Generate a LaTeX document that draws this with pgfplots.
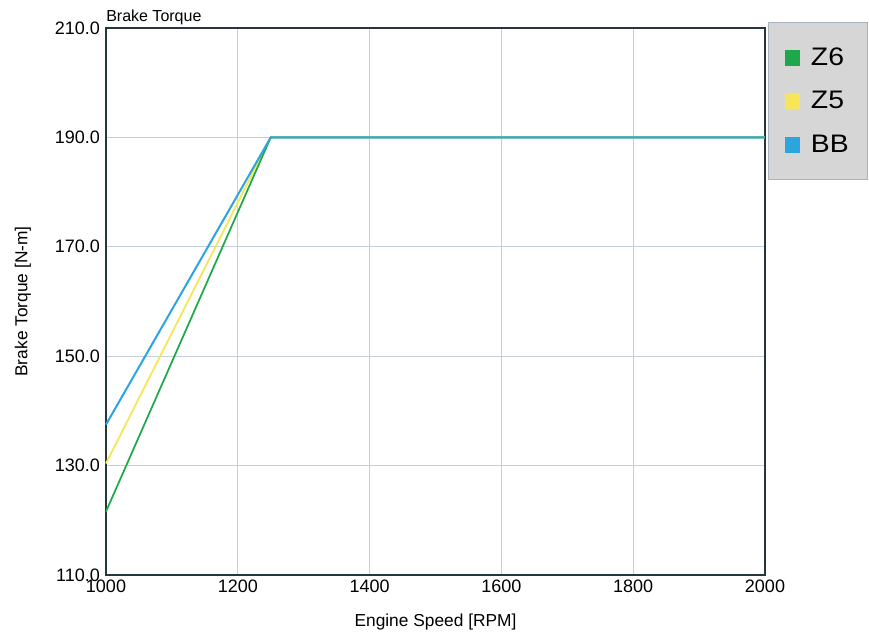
\documentclass[border=0pt]{standalone}
\usepackage{fontspec}
\setmainfont{Liberation Sans}
\newfontfamily\legfont{Liberation Sans}[FakeStretch=1.12]
\usepackage{pgfplots}
\pgfplotsset{compat=1.18}
\definecolor{zsix}{HTML}{1EA84A}
\definecolor{zfive}{HTML}{F5E65A}
\definecolor{bb}{HTML}{2CA4E0}
\definecolor{gridc}{HTML}{C3CFDA}
\definecolor{frame}{HTML}{24383C}
\definecolor{legbg}{HTML}{D6D6D6}
\definecolor{legdraw}{HTML}{A8B4BC}
\begin{document}
\begin{tikzpicture}[x=1pt,y=1pt]
\begin{axis}[
  at={(0,0)}, anchor=south west,
  scale only axis,
  width=494.25pt, height=410.25pt,
  xmin=1000, xmax=2000, ymin=110, ymax=210,
  xtick={1000,1200,...,2000},
  ytick={110,130,...,210},
  grid=major,
  major grid style={gridc, line width=0.8pt},
  major tick length=0pt,
  axis line style={frame, line width=1.5pt},
  tick label style={font=\fontsize{13.5}{15}\selectfont},
  yticklabel style={/pgf/number format/.cd, fixed, fixed zerofill, precision=1},
  xticklabel style={/pgf/number format/.cd, 1000 sep={}},
  /pgf/number format/assume math mode=true,
  xticklabel shift=0pt,
  yticklabel shift=1pt,
  xlabel={Engine Speed [RPM]},
  ylabel={Brake Torque [N-m]},
  label style={font=\fontsize{13}{15}\selectfont},
  xlabel style={yshift=-9pt},
  ylabel style={yshift=11pt},
  clip=false,
  legend cell align=left,
  legend image code/.code={\fill[#1] (0pt,-5.5pt) rectangle (11pt,5.5pt); \path (17pt,0pt);},
  legend style={
    at={(axis description cs:1.0046,1.011)}, anchor=north west,
    fill=legbg, draw=legdraw, line width=0.8pt,
    font=\legfont\fontsize{19}{21}\selectfont,
    row sep=14pt, inner xsep=12pt, inner ysep=17pt,
  },
]
\addlegendimage{zsix}
\addlegendentry{Z6}
\addlegendimage{zfive}
\addlegendentry{Z5}
\addlegendimage{bb}
\addlegendentry{BB}
\addplot[zfive, line width=1.4pt, forget plot] coordinates {(1000,130.4) (1250,190) (2000,190)};
\addplot[zsix, line width=1.3pt, forget plot] coordinates {(1000,121.6) (1250,190) (2000,190)};
\addplot[bb, line width=1.5pt, forget plot] coordinates {(1000,137.5) (1250,190) (2000,190)};
\node[anchor=south west, inner sep=0pt, font=\fontsize{12}{14}\selectfont] at (rel axis cs:0,1) [yshift=2pt] {Brake Torque};
\end{axis}
\pgfresetboundingbox
\path[use as bounding box] (-79.5pt,-44.25pt) rectangle (572.25pt,431.25pt);
\end{tikzpicture}
\end{document}
